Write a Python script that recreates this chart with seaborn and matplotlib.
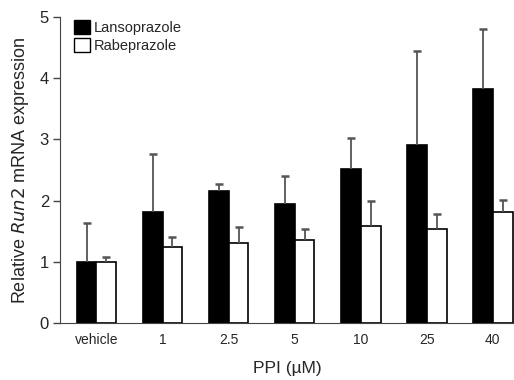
import numpy as np
import pandas as pd
import seaborn as sns
import matplotlib.pyplot as plt
from matplotlib.patches import Patch

doses = ['vehicle', '1', '2.5', '5', '10', '25', '40']
lanso = [1.0, 1.81, 2.16, 1.95, 2.52, 2.91, 3.82]
lanso_err = [0.63, 0.95, 0.12, 0.45, 0.50, 1.54, 0.98]
rabe = [1.0, 1.25, 1.31, 1.36, 1.58, 1.54, 1.81]
rabe_err = [0.08, 0.15, 0.26, 0.18, 0.42, 0.24, 0.20]

sns.set_style('ticks')
plt.rcParams['font.family'] = ['Liberation Sans', 'DejaVu Sans']

data = pd.DataFrame({
    'dose': doses * 2,
    'drug': ['Lansoprazole'] * len(doses) + ['Rabeprazole'] * len(doses),
    'value': lanso + rabe,
})

fig = plt.figure(figsize=(5.14, 3.8), dpi=100)
ax = fig.add_axes([0.117, 0.15, 0.883, 0.805])

sns.barplot(data=data, x='dose', y='value', hue='drug', order=doses,
            palette=['black', 'white'], edgecolor='black', linewidth=1.2,
            width=0.6, errorbar=None, legend=False, ax=ax)

# upward-only error bars, hide the lower cap
for cont, err in zip(ax.containers, [lanso_err, rabe_err]):
    xs = [b.get_x() + b.get_width() / 2 for b in cont]
    ys = [b.get_height() for b in cont]
    eb = ax.errorbar(xs, ys, yerr=[np.zeros(len(err)), err], fmt='none',
                     ecolor='#555555', elinewidth=1.3, capsize=3, capthick=1.8,
                     zorder=1)
    eb[1][0].set_visible(False)
    eb[1][1].set_color('#333333')

ax.set_xlim(-0.55, 6.32)
ax.set_ylim(0, 5)
ax.set_yticks(range(6))
ax.tick_params(axis='y', labelsize=12, length=5, width=1, color='#444444', pad=3)
ax.tick_params(axis='x', labelsize=10, length=0, pad=7)
sns.despine(ax=ax)
ax.spines['left'].set_color('#444444')
ax.spines['bottom'].set_color('#444444')

ax.set_ylabel('Relative $\\it{Run2}$ mRNA expression', fontsize=13, labelpad=6)
ax.set_xlabel('PPI (\u00b5M)', fontsize=12.5, labelpad=10)

handles = [Patch(facecolor='black', edgecolor='black', label='Lansoprazole'),
           Patch(facecolor='white', edgecolor='black', label='Rabeprazole')]
ax.legend(handles=handles, loc='upper left', frameon=False, fontsize=10.5,
          handlelength=1.1, handleheight=1.1, handletextpad=0.3,
          labelspacing=0.25, borderaxespad=0.3, bbox_to_anchor=(0.007, 1.025))

plt.savefig('out.png', dpi=100)
